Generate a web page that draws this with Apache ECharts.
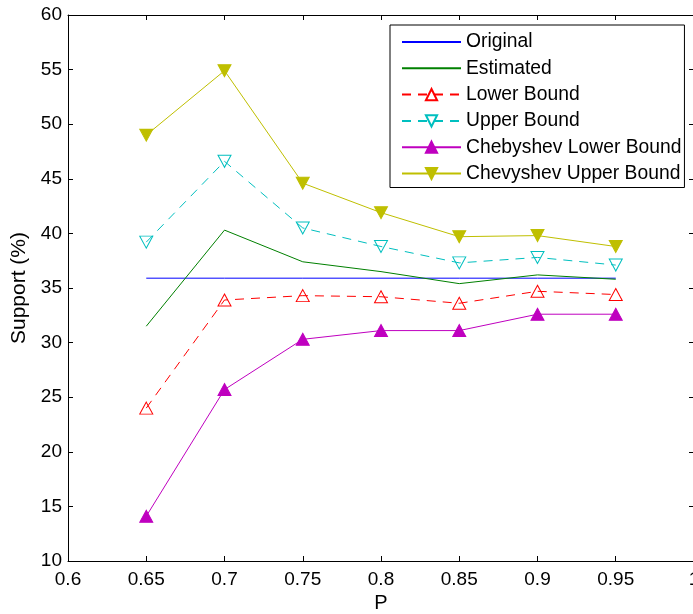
<!DOCTYPE html>
<html>
<head>
<meta charset="utf-8">
<script src="https://cdn.jsdelivr.net/npm/echarts@6/dist/echarts.min.js"></script>
<style>
html,body{margin:0;padding:0;background:#fff;}
#chart{width:693px;height:614px;}
</style>
</head>
<body>
<div id="chart"></div>
<script>
const pValues = [0.65, 0.7, 0.75, 0.8, 0.85, 0.9, 0.95];
const original = [35.9, 35.9, 35.9, 35.9, 35.9, 35.9, 35.9];
const estimated = [31.5, 40.3, 37.4, 36.5, 35.4, 36.2, 35.8];
const lowerBound = [24.0, 33.9, 34.3, 34.2, 33.6, 34.7, 34.4];
const upperBound = [39.2, 46.6, 40.5, 38.8, 37.3, 37.8, 37.1];
const chebLower = [14.1, 25.7, 30.3, 31.1, 31.1, 32.6, 32.6];
const chebUpper = [49.0, 54.9, 44.6, 41.9, 39.7, 39.8, 38.8];
const xTickLabels = ['0.6', '0.65', '0.7', '0.75', '0.8', '0.85', '0.9', '0.95', '1'];
const yTickLabels = ['10', '15', '20', '25', '30', '35', '40', '45', '50', '55', '60'];

function pairs(ys) { return pValues.map((x, i) => [x, ys[i]]); }

const FONT = 'Liberation Sans';
const chart = echarts.init(document.getElementById('chart'), null, {renderer: 'canvas'});

function xLabel(v) {
  const i = Math.round((v - 0.6) / 0.05);
  return xTickLabels[i] !== undefined ? xTickLabels[i] : '';
}
function yLabel(v) {
  const i = Math.round((v - 10) / 5);
  return yTickLabels[i] !== undefined ? yTickLabels[i] : '';
}

const axisCommon = {
  axisLine: {show: true, onZero: false, lineStyle: {color: '#000', width: 1}},
  axisTick: {show: true, inside: true, length: 5, lineStyle: {color: '#000', width: 1}},
  splitLine: {show: false}
};

function lineSeries(name, ys, color, opts) {
  return Object.assign({
    name: name,
    type: 'line',
    data: pairs(ys),
    xAxisIndex: 0,
    yAxisIndex: 0,
    symbol: 'none',
    showSymbol: true,
    animation: false,
    lineStyle: {color: color, width: 1},
    itemStyle: {color: color},
    emphasis: {disabled: true}
  }, opts || {});
}

const noMarker = {color: 'rgba(0,0,0,0)', borderColor: 'rgba(0,0,0,0)', borderWidth: 0};

const option = {
  backgroundColor: '#fff',
  animation: false,
  grid: {left: 68, top: 15, width: 626, height: 546, containLabel: false, outerBoundsMode: 'none'},
  legend: {
    orient: 'vertical',
    left: 390,
    top: 25,
    padding: [7, 3, 4, 11],
    itemWidth: 59,
    itemHeight: 14,
    itemGap: 6.3,
    borderColor: '#000',
    borderWidth: 1,
    backgroundColor: '#fff',
    textStyle: {fontFamily: FONT, fontSize: 19.3, color: '#000', lineHeight: 20},
    selectedMode: false,
    data: [
      {name: 'Original', itemStyle: noMarker},
      {name: 'Estimated', itemStyle: noMarker},
      'Lower Bound', 'Upper Bound', 'Chebyshev Lower Bound', 'Chevyshev Upper Bound'
    ]
  },
  xAxis: [
    Object.assign({
      type: 'value', position: 'bottom', min: 0.6, max: 1, interval: 0.05,
      name: 'P', nameLocation: 'middle', nameGap: 32,
      nameTextStyle: {fontFamily: FONT, fontSize: 20, color: '#000'},
      axisLabel: {fontFamily: FONT, fontSize: 19, color: '#000', margin: 9, formatter: xLabel, showMaxLabel: true, showMinLabel: true}
    }, axisCommon),
    Object.assign({
      type: 'value', position: 'top', min: 0.6, max: 1, interval: 0.05,
      axisLabel: {show: false}
    }, axisCommon)
  ],
  yAxis: [
    Object.assign({
      type: 'value', position: 'left', min: 10, max: 60, interval: 5,
      name: 'Support (%)', nameLocation: 'middle', nameGap: 35, nameRotate: 90,
      nameTextStyle: {fontFamily: FONT, fontSize: 21, color: '#000'},
      axisLabel: {fontFamily: FONT, fontSize: 19, color: '#000', margin: 6, formatter: yLabel}
    }, axisCommon),
    Object.assign({
      type: 'value', position: 'right', min: 10, max: 60, interval: 5,
      axisLabel: {show: false}
    }, axisCommon)
  ],
  series: [
    lineSeries('Original', original, '#0000ff'),
    lineSeries('Estimated', estimated, '#008000'),
    lineSeries('Lower Bound', lowerBound, '#ff0000', {
      symbol: 'triangle', symbolSize: [13, 12],
      lineStyle: {color: '#ff0000', width: 1, type: [9, 7]},
      itemStyle: {color: 'rgba(255,255,255,0)', borderColor: '#ff0000', borderWidth: 1}
    }),
    lineSeries('Upper Bound', upperBound, '#00bfbf', {
      symbol: 'triangle', symbolSize: [13, 12], symbolRotate: 180,
      lineStyle: {color: '#00bfbf', width: 1, type: [9, 7]},
      itemStyle: {color: 'rgba(255,255,255,0)', borderColor: '#00bfbf', borderWidth: 1}
    }),
    lineSeries('Chebyshev Lower Bound', chebLower, '#bf00bf', {
      symbol: 'triangle', symbolSize: [13, 12],
      itemStyle: {color: '#bf00bf', borderColor: '#bf00bf', borderWidth: 1}
    }),
    lineSeries('Chevyshev Upper Bound', chebUpper, '#bfbf00', {
      symbol: 'triangle', symbolSize: [13, 12], symbolRotate: 180,
      itemStyle: {color: '#bfbf00', borderColor: '#bfbf00', borderWidth: 1}
    })
  ]
};
chart.setOption(option);
</script>
</body>
</html>
